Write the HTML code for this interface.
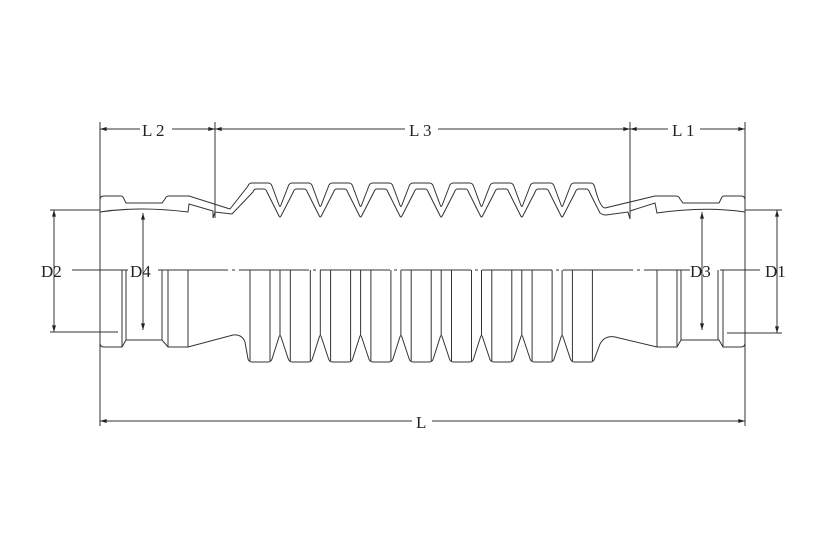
<!DOCTYPE html>
<html><head><meta charset="utf-8"><style>
html,body{margin:0;padding:0;background:#fff;}
svg{display:block}
text{font-family:"Liberation Serif",serif;font-size:17px;fill:#222;}
</style></head><body>
<svg id="s" width="824" height="556" viewBox="0 0 824 556" xmlns="http://www.w3.org/2000/svg">
<defs>
<marker id="a" viewBox="0 0 10 6" refX="10" refY="3" markerWidth="8" markerHeight="4" orient="auto-start-reverse" markerUnits="userSpaceOnUse"><path d="M0,0 L10,3 L0,6z" fill="#222"/></marker>
</defs>
<g stroke="#333" stroke-width="1" fill="none">
<line x1="100" y1="122" x2="100" y2="426"/>
<line x1="745" y1="122" x2="745" y2="426"/>
<line x1="215" y1="122" x2="215" y2="218"/>
<line x1="630" y1="122" x2="630" y2="219"/>
<line x1="50" y1="210" x2="100" y2="210"/>
<line x1="50" y1="332" x2="118" y2="332"/>
<line x1="745" y1="210" x2="782" y2="210"/>
<line x1="727" y1="333" x2="782" y2="333"/>
<line x1="100" y1="129" x2="140" y2="129" marker-start="url(#a)"/>
<line x1="172" y1="129" x2="215" y2="129" marker-end="url(#a)"/>
<line x1="215" y1="129" x2="405" y2="129" marker-start="url(#a)"/>
<line x1="438" y1="129" x2="630" y2="129" marker-end="url(#a)"/>
<line x1="630" y1="129" x2="668" y2="129" marker-start="url(#a)"/>
<line x1="700" y1="129" x2="745" y2="129" marker-end="url(#a)"/>
<line x1="100" y1="421" x2="412" y2="421" marker-start="url(#a)"/>
<line x1="432" y1="421" x2="745" y2="421" marker-end="url(#a)"/>
<line x1="54" y1="210" x2="54" y2="332" marker-start="url(#a)" marker-end="url(#a)"/>
<line x1="143" y1="213" x2="143" y2="330" marker-start="url(#a)" marker-end="url(#a)"/>
<line x1="702" y1="212" x2="702" y2="330" marker-start="url(#a)" marker-end="url(#a)"/>
<line x1="777" y1="210" x2="777" y2="333" marker-start="url(#a)" marker-end="url(#a)"/>
<line x1="72" y1="270" x2="128" y2="270"/>
<line x1="158" y1="270" x2="690" y2="270" stroke-dasharray="70 4 3 4"/>
<line x1="720" y1="270" x2="760" y2="270"/>
<path d="M100,212 L100,200 Q100,196 104,196 L121,196 Q123,196 124,199 L126,203 L162,203 L165,199 Q166,196 169,196 L189,196 L230,209"/>
<path d="M100,212 Q140,206 188,212 L189,204 L213,211 L213,218 L215,212 L232,214"/>
<path d="M745,212 L745,200 Q745,196 741,196 L724,196 Q722,196 721,199 L719,203 L683,203 L680,199 Q679,196 676,196 L655,196 L605,208"/>
<path d="M745,212 Q705,206 657,213 L655,203 L630,211 L630,219 L628,212 L606,215"/>
<path d="M100,270 L100,343 Q100,347 104,347 L122,347 L126,340 L162,340 L168,347 L188,347 L233,335 Q242,334 245,342"/>
<path d="M745,270 L745,343 Q745,347 741,347 L723,347 L719,340 L681,340 L677,347 L657,347 L615,337 Q605,335 600,344"/>
<g id="v"></g>
<path id="to"/><path id="ti"/><path id="bo"/>
</g>
<text x="142" y="136">L 2</text>
<text x="409" y="136">L 3</text>
<text x="672" y="136">L 1</text>
<text x="416" y="428">L</text>
<text x="41" y="277">D2</text>
<text x="130" y="277">D4</text>
<text x="690" y="277">D3</text>
<text x="765" y="277">D1</text>
</svg>
<script>
var to="M230,209",ti="M232,214",bo="M245,342",v="";
var lines=[122,126,162,168,188,657,677,681,718,723];
for(var i=0;i<9;i++){
 var c=260+40.3*i;
 to+=" L"+(c-12)+",186 Q"+(c-11)+",183 "+(c-8)+",183 L"+(c+8)+",183 Q"+(c+11)+",183 "+(c+12)+",186";
 ti+=" L"+(c-7)+",192 Q"+(c-6)+",189 "+(c-4)+",189 L"+(c+4)+",189 Q"+(c+6)+",189 "+(c+7)+",192";
 bo+=" L"+(c-12)+",359 Q"+(c-11)+",362 "+(c-8)+",362 L"+(c+8)+",362 Q"+(c+11)+",362 "+(c+12)+",359";
 lines.push(c-10,c+10);
 if(i<8){
  to+=" L"+(c+19)+",205 Q"+(c+20)+",208 "+(c+21)+",205";
  ti+=" L"+(c+19)+",216 Q"+(c+20)+",218 "+(c+21)+",216";
  bo+=" L"+(c+19)+",337 Q"+(c+20)+",334 "+(c+21)+",337";
  v+='<line x1="'+(c+20)+'" y1="270" x2="'+(c+20)+'" y2="335"/>';
 } else {
  to+=" Q600,208 605,208"; ti+=" L600,213 Q603,215 606,215"; bo+=" L600,344";
 }
}
lines.forEach(function(x){
 var y2=(x<200||x>640)?(x==126||x==162||x==681||x==718?340:347):361;
 v+='<line x1="'+x+'" y1="270" x2="'+x+'" y2="'+y2+'"/>';
});
document.getElementById("to").setAttribute("d",to);
document.getElementById("ti").setAttribute("d",ti);
document.getElementById("bo").setAttribute("d",bo);
document.getElementById("v").innerHTML=v;
</script>
</body></html>
